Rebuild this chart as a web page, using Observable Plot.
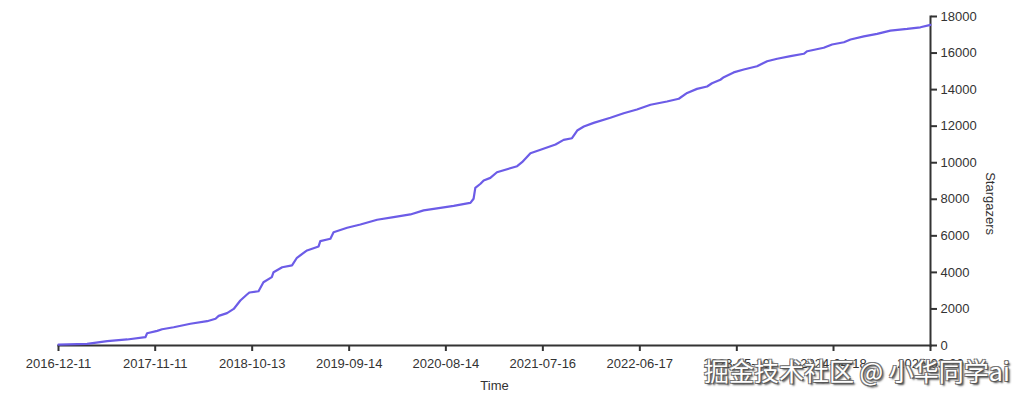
<!DOCTYPE html>
<html>
<head>
<meta charset="utf-8">
<script src="https://cdn.jsdelivr.net/npm/d3@7"></script>
<script src="https://cdn.jsdelivr.net/npm/@observablehq/plot@0.6"></script>
<style>
  html, body { margin: 0; padding: 0; background: #fff; }
  #wrap { position: relative; width: 1024px; height: 400px; }
  #wm { position: absolute; left: 704px; top: 352px; font-family: "Noto Sans CJK SC", sans-serif; font-size: 25px; color: #fff;
        text-shadow: 1px 1px 0 #555, -1px -1px 0 #777, 1px -1px 0 #777, -1px 1px 0 #777, 2px 2px 2px #444; white-space: nowrap; }
</style>
</head>
<body>
<div id="wrap"><div id="chart"></div><div id="wm">掘金技术社区 @ 小华同学ai</div></div>
<script>
const dates = [
  "2016-12-11","2017-03-20","2017-05-29","2017-08-06","2017-10-08","2017-10-14","2017-11-18","2017-12-05",
  "2018-01-14","2018-03-13","2018-05-10","2018-06-08","2018-06-19","2018-07-18","2018-08-10","2018-09-02",
  "2018-09-25","2018-10-04","2018-11-04","2018-11-21","2018-12-20","2018-12-26","2019-01-25","2019-02-28",
  "2019-03-17","2019-04-21","2019-05-31","2019-06-06","2019-07-11","2019-07-22","2019-09-07","2019-10-23",
  "2019-12-20","2020-02-15","2020-04-13","2020-05-29","2020-07-26","2020-09-10","2020-11-01","2020-11-07",
  "2020-11-18","2020-11-24","2020-12-12","2020-12-23","2021-01-15","2021-02-07","2021-04-18","2021-05-05",
  "2021-06-03","2021-07-08","2021-08-29","2021-09-26","2021-10-25","2021-11-12","2021-12-05","2022-01-08",
  "2022-03-07","2022-04-22","2022-06-07","2022-07-24","2022-09-19","2022-10-30","2022-11-28","2023-01-01",
  "2023-02-05","2023-02-22","2023-03-23","2023-04-04","2023-05-08","2023-06-12","2023-07-28","2023-09-01",
  "2023-10-06","2023-11-21","2024-01-06","2024-01-18","2024-03-15","2024-04-13","2024-05-24","2024-06-16",
  "2024-08-01","2024-09-16","2024-11-01","2024-12-29","2025-02-13","2025-03-20"
];
const stars = [
  50, 90, 235, 330, 455, 670, 800, 890,
  1000, 1190, 1330, 1460, 1620, 1770, 2000, 2460,
  2790, 2900, 2970, 3460, 3740, 4010, 4280, 4380,
  4800, 5200, 5420, 5710, 5840, 6200, 6440, 6620,
  6880, 7020, 7170, 7390, 7530, 7640, 7790, 7800,
  8030, 8620, 8850, 9030, 9170, 9480, 9810, 10030,
  10520, 10710, 11000, 11250, 11340, 11760, 11980, 12180,
  12460, 12710, 12910, 13170, 13350, 13500, 13820, 14040,
  14170, 14350, 14540, 14680, 14940, 15100, 15280, 15550,
  15690, 15830, 15960, 16100, 16290, 16470, 16590, 16740,
  16910, 17050, 17230, 17320, 17410, 17540
];
const xTickLabels = ["2016-12-11","2017-11-11","2018-10-13","2019-09-14","2020-08-14","2021-07-16","2022-06-17","2023-05-19","2024-04-18","2025-03-20"];
const yTicks = [0, 2000, 4000, 6000, 8000, 10000, 12000, 14000, 16000, 18000];
const xLabel = "Time";
const yLabel = "Stargazers";

const data = dates.map((d, i) => ({date: new Date(d), stars: stars[i]}));
const xDomain = [new Date(xTickLabels[0]), new Date(xTickLabels[xTickLabels.length - 1])];

const chart = Plot.plot({
  width: 1024,
  height: 400,
  marginTop: 16,
  marginRight: 94,
  marginBottom: 55,
  marginLeft: 58,
  x: {type: "utc", domain: xDomain},
  y: {domain: [yTicks[0], yTicks[yTicks.length - 1]]},
  style: {fontFamily: "'Liberation Sans', Arial, sans-serif", fontSize: "13px", color: "#333", background: "#fff"},
  marks: [
    Plot.axisX({ticks: xTickLabels.map(d => new Date(d)), tickFormat: d3.utcFormat("%Y-%m-%d"), tickSize: 6, tickPadding: 7, strokeWidth: 2, label: null, fontSize: 13}),
    Plot.axisY({anchor: "right", ticks: yTicks, tickFormat: d => String(d), tickSize: 6, tickPadding: 4, strokeWidth: 2, label: null, fontSize: 13}),
    Plot.frame({anchor: "bottom", stroke: "#333", strokeWidth: 2}),
    Plot.frame({anchor: "right", stroke: "#333", strokeWidth: 2}),
    Plot.line(data, {x: "date", y: "stars", stroke: "#6c5ce7", strokeWidth: 2.2}),
    Plot.text([xLabel], {frameAnchor: "bottom", dy: 44, fontSize: 13, fill: "#333"}),
    Plot.text([yLabel], {frameAnchor: "right", dx: 60, dy: 54, rotate: 90, fontSize: 13, fill: "#333"})
  ]
});
document.getElementById("chart").appendChild(chart);
</script>
</body>
</html>
